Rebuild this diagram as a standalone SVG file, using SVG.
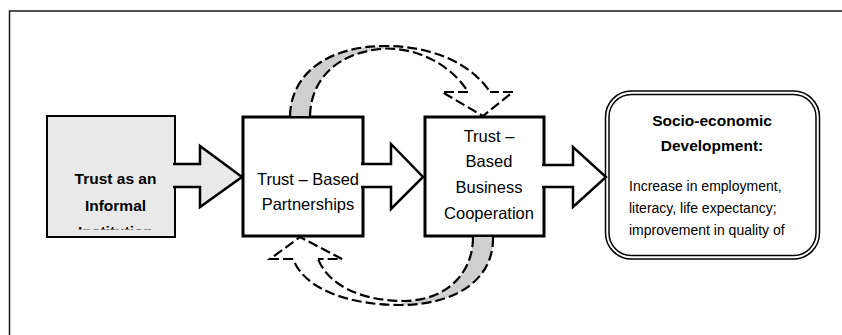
<svg xmlns="http://www.w3.org/2000/svg" width="842" height="335" viewBox="0 0 842 335">
<style>
.box{stroke:#000;stroke-width:3;fill:#fff}
.t{font-family:"Liberation Sans",Arial,sans-serif;fill:#000}
.b{font-weight:bold}
.dash{fill:none;stroke:#000;stroke-width:2.2;stroke-dasharray:10 4}
.blk{stroke:#000;stroke-width:2.5;stroke-linejoin:miter}
</style>
<defs>
<clipPath id="clip1"><rect x="47" y="116" width="128" height="113.5"/></clipPath>
</defs>
<rect width="842" height="335" fill="#fff"/>
<g id="frame">
<path d="M9.5,335 V11 H842" fill="none" stroke="#1a1a1a" stroke-width="1.5"/>
</g>
<g id="node-trust-institution">
<rect x="47" y="116" width="128" height="121" fill="#e9e9e9" stroke="#000" stroke-width="2"/>
<g clip-path="url(#clip1)">
<text class="t b" font-size="15.5" text-anchor="middle" x="115.5" y="184">Trust as an</text>
<text class="t b" font-size="15.5" text-anchor="middle" x="115.5" y="210.5">Informal</text>
<text class="t b" font-size="15.5" text-anchor="middle" x="115.5" y="237">Institution</text>
</g>
</g>
<g id="connectors">
<path class="blk" fill="#e9e9e9" d="M173,164 L200,164 L200,146 L242,177 L200,207 L200,187 L173,187"/>
</g>
<g id="node-partnerships">
<rect class="box" x="243" y="117" width="120" height="119"/>
<text class="t" font-size="16.5" text-anchor="middle" x="308" y="185">Trust – Based</text>
<text class="t" font-size="16.5" text-anchor="middle" x="308" y="210">Partnerships</text>
</g>
<g id="node-cooperation">
<rect class="box" x="425" y="117" width="119" height="119"/>
<text class="t" font-size="16.5" text-anchor="middle" x="489" y="142">Trust –</text>
<text class="t" font-size="16.5" text-anchor="middle" x="489" y="167">Based</text>
<text class="t" font-size="16.5" text-anchor="middle" x="489" y="193">Business</text>
<text class="t" font-size="16.5" text-anchor="middle" x="489" y="219">Cooperation</text>
</g>
<g id="node-development">
<rect x="605.5" y="91" width="214" height="168" rx="26" fill="#fff" stroke="#000" stroke-width="1.5"/>
<rect x="609" y="94.5" width="207" height="161" rx="22.5" fill="none" stroke="#000" stroke-width="1.5"/>
<text class="t b" font-size="15.5" text-anchor="middle" x="712" y="126">Socio-economic</text>
<text class="t b" font-size="15.5" text-anchor="middle" x="712" y="151">Development:</text>
<text class="t" font-size="14" x="629" y="191">Increase in employment,</text>
<text class="t" font-size="14" x="629" y="213">literacy, life expectancy;</text>
<text class="t" font-size="14" x="629" y="234.5">improvement in quality of</text>
</g>
<g id="connectors-2">
<path class="blk" fill="#fff" d="M361,164 L391,164 L391,144 L423,177 L391,209 L391,187 L361,187"/>
<path class="blk" fill="#fff" d="M542,165 L573,165 L573,147 L606,177 L573,207 L573,187 L542,187"/>
<path d="M290,116 C291,72 330,46 385,46 L386,48.5 C338,52 311,78 310,116 Z" fill="#cfcfcf"/>
<path class="dash" d="M290,116 C291,72 330,46 385,46 C430,46 470,62 490,92"/>
<path class="dash" d="M310,116 C311,78 338,52 385,48.5 C420,48 452,66 468,92"/>
<path class="dash" d="M468,92 L442,92 L483,116 L513,92 L490,92"/>
<path d="M493,237 C494,280 455,305 400,305 L405,301 C445,300 473,275 473,237 Z" fill="#cfcfcf"/>
<path class="dash" d="M493,237 C494,280 455,305 400,305 C350,305 305,290 293,259"/>
<path class="dash" d="M473,237 C473,275 445,300 405,301 C365,301 330,288 318,259"/>
<path class="dash" d="M293,259 L270,259 L300,237 L342,259 L318,259"/>
</g>
</svg>
